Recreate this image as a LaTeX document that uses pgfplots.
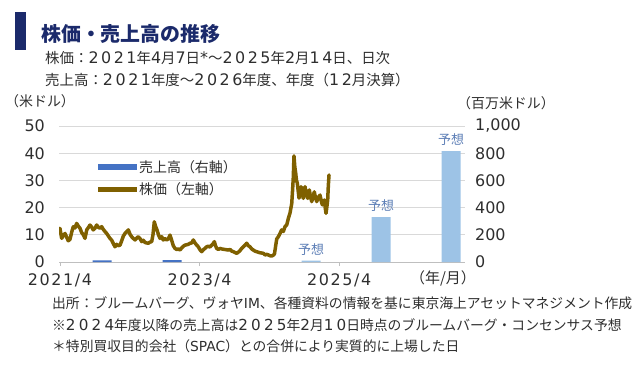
\documentclass[border=0pt]{standalone}
\usepackage{fontspec}
\setmainfont{Noto Sans CJK JP}
\newfontfamily\numfont{DejaVu Sans}
\newfontfamily\digitfont{DejaVu Sans}[Scale=1.1, LetterSpace=16]
\newfontfamily\digitfontB{DejaVu Sans}[Scale=1.1, LetterSpace=21]
\newfontfamily\tickfont{DejaVu Sans}[LetterSpace=10]
\newcommand\D[1]{{\digitfont #1}}
\newcommand\DF[1]{{\digitfontB #1}}
\newcommand\LL[1]{{\numfont #1}}
\usepackage{pgfplots}
\usepackage{pgfplotstable}
\pgfplotsset{compat=1.18}
\definecolor{navy}{HTML}{1B2A6B}
\definecolor{txt}{HTML}{2E2E2E}
\definecolor{brownline}{HTML}{7F6000}
\definecolor{actbar}{HTML}{4472C4}
\definecolor{fcbar}{HTML}{9DC3E6}
\definecolor{gridc}{HTML}{D9D9D9}
\definecolor{axisc}{HTML}{BFBFBF}
\definecolor{fclabel}{HTML}{5B7DB5}

\pgfplotstableread{
t p
2021.250 12.4
2021.274 8.7
2021.293 9.5
2021.322 10.5
2021.369 7.8
2021.393 8.3
2021.418 11.0
2021.441 13.0
2021.465 12.5
2021.489 14.2
2021.512 13.2
2021.537 12.4
2021.561 10.8
2021.584 10.0
2021.608 8.7
2021.633 11.8
2021.655 12.6
2021.680 13.6
2021.704 12.8
2021.727 11.8
2021.751 12.4
2021.776 13.6
2021.799 12.8
2021.823 12.4
2021.847 13.0
2021.870 12.0
2021.895 11.2
2021.919 10.5
2021.942 9.6
2021.966 8.7
2021.991 8.0
2022.014 6.8
2022.038 5.6
2022.062 6.5
2022.085 6.0
2022.110 6.2
2022.134 7.8
2022.157 9.5
2022.181 10.5
2022.206 11.2
2022.229 11.8
2022.253 10.2
2022.277 9.3
2022.300 8.7
2022.325 8.1
2022.349 8.8
2022.372 9.3
2022.396 8.6
2022.421 7.5
2022.443 8.0
2022.468 7.2
2022.492 7.0
2022.515 6.9
2022.539 7.3
2022.564 7.5
2022.582 10.0
2022.601 14.8
2022.618 13.2
2022.640 11.8
2022.661 10.0
2022.683 8.7
2022.707 9.3
2022.730 8.1
2022.754 8.6
2022.779 8.1
2022.802 8.5
2022.826 9.9
2022.850 8.0
2022.873 6.0
2022.898 5.0
2022.922 4.6
2022.945 4.8
2022.969 4.4
2022.994 5.2
2023.017 5.8
2023.041 6.2
2023.088 6.5
2023.113 6.9
2023.137 7.0
2023.160 8.1
2023.184 7.0
2023.209 6.2
2023.231 5.6
2023.256 4.5
2023.280 3.8
2023.303 4.5
2023.327 5.0
2023.352 5.6
2023.375 5.8
2023.399 5.5
2023.423 6.2
2023.446 6.8
2023.461 7.5
2023.478 6.0
2023.495 5.0
2023.518 4.6
2023.542 5.0
2023.567 4.8
2023.590 4.7
2023.614 4.6
2023.638 4.5
2023.661 4.4
2023.686 4.6
2023.710 4.0
2023.733 3.8
2023.757 3.5
2023.782 3.2
2023.804 3.6
2023.829 4.2
2023.853 5.0
2023.876 5.6
2023.900 6.2
2023.925 6.9
2023.948 6.0
2023.972 5.6
2023.996 4.8
2024.019 4.4
2024.044 4.0
2024.068 3.8
2024.091 3.6
2024.115 3.4
2024.140 3.3
2024.163 3.2
2024.187 2.6
2024.211 2.8
2024.234 2.6
2024.259 2.3
2024.283 2.2
2024.306 2.5
2024.323 3.0
2024.337 5.5
2024.355 8.5
2024.378 9.3
2024.402 10.5
2024.426 11.8
2024.449 11.2
2024.474 13.0
2024.498 13.6
2024.521 16.0
2024.545 18.0
2024.570 21.5
2024.581 26.0
2024.592 31.0
2024.602 39.0
2024.614 35.0
2024.627 32.6
2024.638 30.0
2024.650 29.0
2024.663 26.0
2024.674 23.5
2024.688 25.0
2024.703 27.7
2024.720 25.0
2024.736 23.4
2024.749 26.0
2024.760 27.7
2024.779 25.0
2024.799 23.4
2024.810 25.0
2024.822 26.5
2024.839 24.0
2024.856 22.2
2024.875 24.0
2024.893 25.8
2024.911 23.5
2024.928 22.2
2024.951 23.8
2024.975 24.6
2024.992 22.5
2025.008 21.0
2025.022 22.0
2025.037 22.8
2025.049 20.0
2025.061 17.9
2025.072 20.0
2025.085 22.8
2025.094 28.0
2025.104 32.0
}\price

\pgfplotstableread{
t r
2021.852 12.4
2022.855 13.8
}\revact

\pgfplotstableread{
t r
2024.846 10
2025.849 330
2026.852 815
}\revfc

\begin{document}
\begin{tikzpicture}[x=1bp,y=1bp]
\path[use as bounding box] (0,0) rectangle (640,366);

% title block
\fill[navy] (15,316) rectangle (26,354);
\node[anchor=west, inner sep=0pt, text=navy, font=\bfseries\fontsize{20}{24}\selectfont] at (41,332) {株価・売上高の推移};
\node[anchor=west, inner sep=0pt, text=txt, font=\fontsize{14.5}{18}\selectfont] at (45,308) {株価：\D{2021}年\D{4}月\D{7}日\D{*}～\D{2025}年\D{2}月\D{14}日、日次};
\node[anchor=west, inner sep=0pt, text=txt, font=\fontsize{14.5}{18}\selectfont] at (45,286) {売上高：\D{2021}年度～\D{2026}年度、年度（\D{12}月決算）};
\node[anchor=west, inner sep=0pt, text=txt, font=\fontsize{14}{16}\selectfont] at (5,265) {（米ドル）};
\node[anchor=west, inner sep=0pt, text=txt, font=\fontsize{14}{16}\selectfont] at (457,263) {（百万米ドル）};

% left axis: price
\begin{axis}[
  at={(59bp,104bp)}, anchor=south west, scale only axis,
  width=406bp, height=136bp,
  xmin=2021.236, xmax=2027.052, ymin=0, ymax=50,
  axis x line*=bottom, axis y line*=left,
  x axis line style={draw=axisc, line width=0.8bp, -},
  y axis line style={draw=none},
  xtick={2021.25,2023.25,2025.25},
  xticklabels={2021/4,2023/4,2025/4},
  ytick={0,10,20,30,40,50},
  ymajorgrids, grid style={gridc, line width=0.8bp},
  ytick style={draw=none},
  xtick style={draw=axisc, line width=0.8bp},
  tick align=outside, major tick length=4bp,
  ticklabel style={font=\numfont\fontsize{16}{16}\selectfont, text=txt},
  /pgf/number format/assume math mode=true,
  yticklabel style={anchor=east, inner sep=0pt, xshift=-10bp},
  xticklabel style={anchor=north, inner sep=0pt, yshift=-7bp, font=\tickfont\fontsize{16}{16}\selectfont},
]
\addplot[color=brownline, line width=3.5bp, line join=round, line cap=round] table[x=t, y=p] {\price};
\end{axis}

% right axis: revenue
\begin{axis}[
  at={(59bp,104bp)}, anchor=south west, scale only axis,
  width=406bp, height=136bp,
  xmin=2021.236, xmax=2027.052, ymin=0, ymax=1000,
  axis x line=none, axis y line*=right,
  y axis line style={draw=none},
  ytick={0,200,400,600,800,1000},
  ytick style={draw=none},
  scaled y ticks=false,
  ticklabel style={font=\numfont\fontsize{16}{16}\selectfont, text=txt},
  /pgf/number format/assume math mode=true,
  /pgf/number format/1000 sep={,},
  yticklabel style={anchor=west, inner sep=0pt, xshift=10bp},
]
\addplot[ybar, bar width=19bp, bar shift=0pt, fill=actbar, draw=none] table[x=t, y=r] {\revact};
\addplot[ybar, bar width=19bp, bar shift=0pt, fill=fcbar, draw=none] table[x=t, y=r] {\revfc};
\node[anchor=south, inner sep=0pt, yshift=5bp, text=fclabel, font=\fontsize{13}{14}\selectfont] at (axis cs:2024.846,10) {予想};
\node[anchor=south, inner sep=0pt, yshift=5bp, text=fclabel, font=\fontsize{13}{14}\selectfont] at (axis cs:2025.849,330) {予想};
\node[anchor=south, inner sep=0pt, yshift=5bp, text=fclabel, font=\fontsize{13}{14}\selectfont] at (axis cs:2026.852,815) {予想};
\end{axis}

\node[anchor=west, inner sep=0pt, text=txt, font=\fontsize{15}{16}\selectfont] at (410,88) {（年/月）};

% legend
\fill[actbar] (98,196) rectangle (137,202);
\draw[brownline, line width=5bp] (98,177) -- (137,177);
\node[anchor=west, inner sep=0pt, text=txt, font=\fontsize{14}{16}\selectfont] at (139,199) {売上高（右軸）};
\node[anchor=west, inner sep=0pt, text=txt, font=\fontsize{14}{16}\selectfont] at (139,177) {株価（左軸）};

% footnotes
\node[anchor=west, inner sep=0pt, text=txt, font=\fontsize{13.85}{16}\selectfont] at (52,63) {出所：ブルームバーグ、ヴォヤ\LL{IM}、各種資料の情報を基に東京海上アセットマネジメント作成};
\node[anchor=west, inner sep=0pt, text=txt, font=\fontsize{13.85}{16}\selectfont] at (52,41) {※\DF{2024}年度以降の売上高は\DF{2025}年\DF{2}月\DF{10}日時点のブルームバーグ・コンセンサス予想};
\node[anchor=west, inner sep=0pt, text=txt, font=\fontsize{13.85}{16}\selectfont] at (52,20) {＊特別買収目的会社（\LL{SPAC}）との合併により実質的に上場した日};
\end{tikzpicture}
\end{document}
